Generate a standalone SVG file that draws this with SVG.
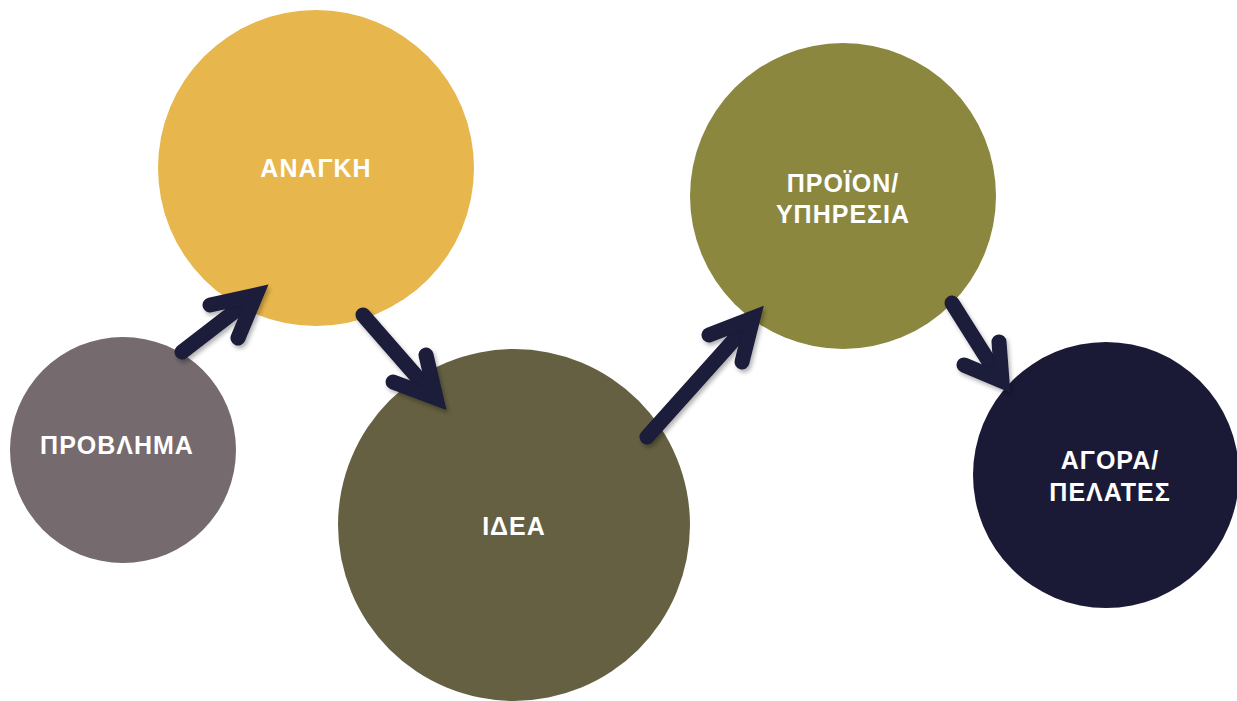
<svg xmlns="http://www.w3.org/2000/svg" width="1237" height="701" viewBox="0 0 1237 701">
<defs>
<filter id="sh" x="-20%" y="-20%" width="140%" height="140%">
<feDropShadow dx="2" dy="3" stdDeviation="2" flood-color="#000" flood-opacity="0.3"/>
</filter>
</defs>
<style>
.lbl{font-family:"Liberation Sans",Arial,sans-serif;font-weight:bold;font-size:25px;fill:#fff;text-anchor:middle;letter-spacing:1px}
.arr{fill:none;stroke:#1b1a3a;stroke-width:15;stroke-linecap:round;stroke-linejoin:miter}
</style>
<rect width="1237" height="701" fill="#fff"/>
<g id="node-problima">
<circle cx="123" cy="450" r="113" fill="#756a6e"/>
<text class="lbl" x="117" y="454">ΠΡΟΒΛΗΜΑ</text>
</g>
<g id="node-anagki">
<circle cx="316" cy="168" r="158" fill="#e7b64c"/>
<text class="lbl" x="316" y="177">ΑΝΑΓΚΗ</text>
</g>
<g id="node-idea">
<circle cx="514" cy="525" r="176" fill="#646041"/>
<text class="lbl" x="514" y="535">ΙΔΕΑ</text>
</g>
<g id="node-proion">
<circle cx="843" cy="196" r="153" fill="#8b873f"/>
<text class="lbl" x="843" y="192">ΠΡΟΪΟΝ/</text>
<text class="lbl" x="843" y="223">ΥΠΗΡΕΣΙΑ</text>
</g>
<g id="node-agora">
<circle cx="1106" cy="475" r="133" fill="#1b1a36"/>
<text class="lbl" x="1110" y="469">ΑΓΟΡΑ/</text>
<text class="lbl" x="1110" y="501">ΠΕΛΑΤΕΣ</text>
</g>
<g id="connectors" filter="url(#sh)">
<path class="arr" stroke-linecap="butt" d="M182 352 L252 298"/>
<path class="arr" d="M210 305 L256 295 L238 338"/>
<path class="arr" stroke-linecap="butt" d="M363 315 L432 394"/>
<path class="arr" d="M426 355 L436 398 L393 382"/>
<path class="arr" stroke-linecap="butt" d="M647 437 L750 322"/>
<path class="arr" d="M709 335 L753 318 L742 362"/>
<path class="arr" stroke-linecap="butt" d="M952 303 L998 376"/>
<path class="arr" d="M999 342 L1002 381 L964 365"/>
</g>
</svg>
